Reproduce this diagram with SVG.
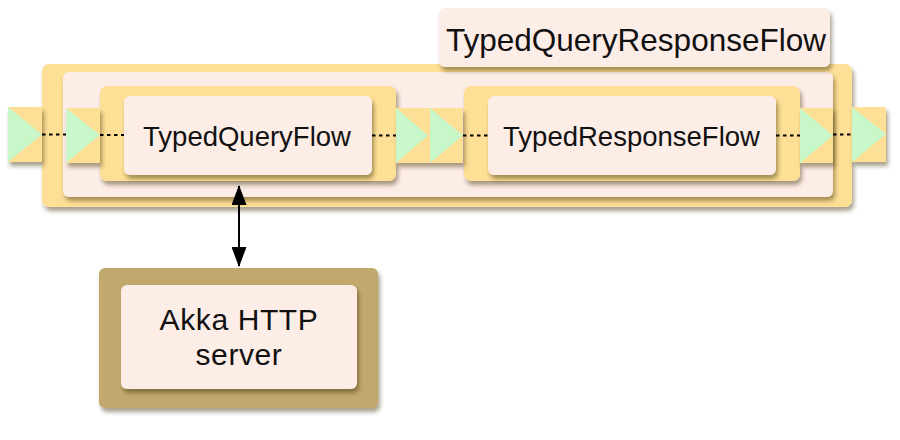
<svg xmlns="http://www.w3.org/2000/svg" width="900" height="440" viewBox="0 0 900 440">
<defs>
<filter id="sh" x="-10%" y="-10%" width="130%" height="140%">
<feDropShadow dx="2" dy="4" stdDeviation="2" flood-color="#3a2a00" flood-opacity="0.45"/>
</filter>
<marker id="ah" viewBox="0 0 20 15" refX="19" refY="7.5" markerWidth="20" markerHeight="15" markerUnits="userSpaceOnUse" orient="auto-start-reverse">
<path d="M0,0 L20,7.5 L0,15 Z" fill="#000"/>
</marker>
</defs>
<style>
.yel{fill:#FDDF95;filter:url(#sh)}
.pink{fill:#FDEDE7;filter:url(#sh)}
.brown{fill:#C1A96E;filter:url(#sh)}
.tri{fill:#C8F7C9}
.dot{stroke:#000;stroke-width:2;stroke-dasharray:3.5 3.5;fill:none}
.lbl{font-family:"Liberation Sans",Arial,sans-serif;fill:#111;text-anchor:middle}
</style>
<g id="TypedQueryResponseFlow">
<rect class="yel" x="42" y="64" width="810" height="143" rx="7"/>
<rect class="pink" x="63" y="72" width="770" height="125" rx="6"/>
<rect class="pink" x="439" y="8" width="391" height="59" rx="6"/>
<text class="lbl" x="636" y="51" font-size="31.5">TypedQueryResponseFlow</text>
</g>
<g id="TypedQueryFlow">
<rect class="yel" x="100" y="86" width="296" height="95" rx="7"/>
<rect class="pink" x="124" y="96" width="248" height="79" rx="6"/>
<text class="lbl" x="247" y="146" font-size="27.5">TypedQueryFlow</text>
</g>
<g id="TypedResponseFlow">
<rect class="yel" x="464" y="86" width="336" height="95" rx="7"/>
<rect class="pink" x="488" y="96" width="288" height="79" rx="6"/>
<text class="lbl" x="631.5" y="146" font-size="27.5">TypedResponseFlow</text>
</g>
<g id="port-in">
<rect class="yel" x="8" y="107" width="34" height="55"/>
<polygon class="tri" points="8,107 8,162 42,134.5"/>
</g>
<g id="port-query-in">
<rect class="yel" x="66" y="108" width="34" height="55"/>
<polygon class="tri" points="66,108 66,163 100,135"/>
</g>
<g id="port-middle">
<rect class="yel" x="396" y="108" width="67" height="55"/>
<polygon class="tri" points="396,108 396,163 428,135.5"/>
<polygon class="tri" points="430,108 430,163 463,135.5"/>
</g>
<g id="port-response-out">
<rect class="yel" x="800" y="108" width="33" height="55"/>
<polygon class="tri" points="800,108 800,163 833,135.5"/>
</g>
<g id="port-out">
<rect class="yel" x="852" y="107" width="34" height="55"/>
<polygon class="tri" points="852,107 852,162 886,134"/>
</g>
<g id="AkkaHTTPServer">
<rect class="brown" x="99" y="268" width="279" height="140" rx="6"/>
<rect class="pink" x="121" y="285" width="236" height="104" rx="6"/>
<text class="lbl" x="239" y="330" font-size="30" letter-spacing="0.6">Akka HTTP</text>
<text class="lbl" x="239" y="365" font-size="30" letter-spacing="0.6">server</text>
</g>
<g id="connectors">
<line class="dot" x1="42" y1="134.5" x2="66" y2="134.5"/>
<line class="dot" x1="100" y1="135" x2="124" y2="135"/>
<line class="dot" x1="372" y1="135.5" x2="396" y2="135.5"/>
<line class="dot" x1="463" y1="135.5" x2="488" y2="135.5"/>
<line class="dot" x1="776" y1="135.5" x2="800" y2="135.5"/>
<line class="dot" x1="833" y1="134.5" x2="852" y2="134.5"/>
<line x1="239" y1="186" x2="239" y2="266" stroke="#000" stroke-width="2" marker-start="url(#ah)" marker-end="url(#ah)"/>
</g>
</svg>
